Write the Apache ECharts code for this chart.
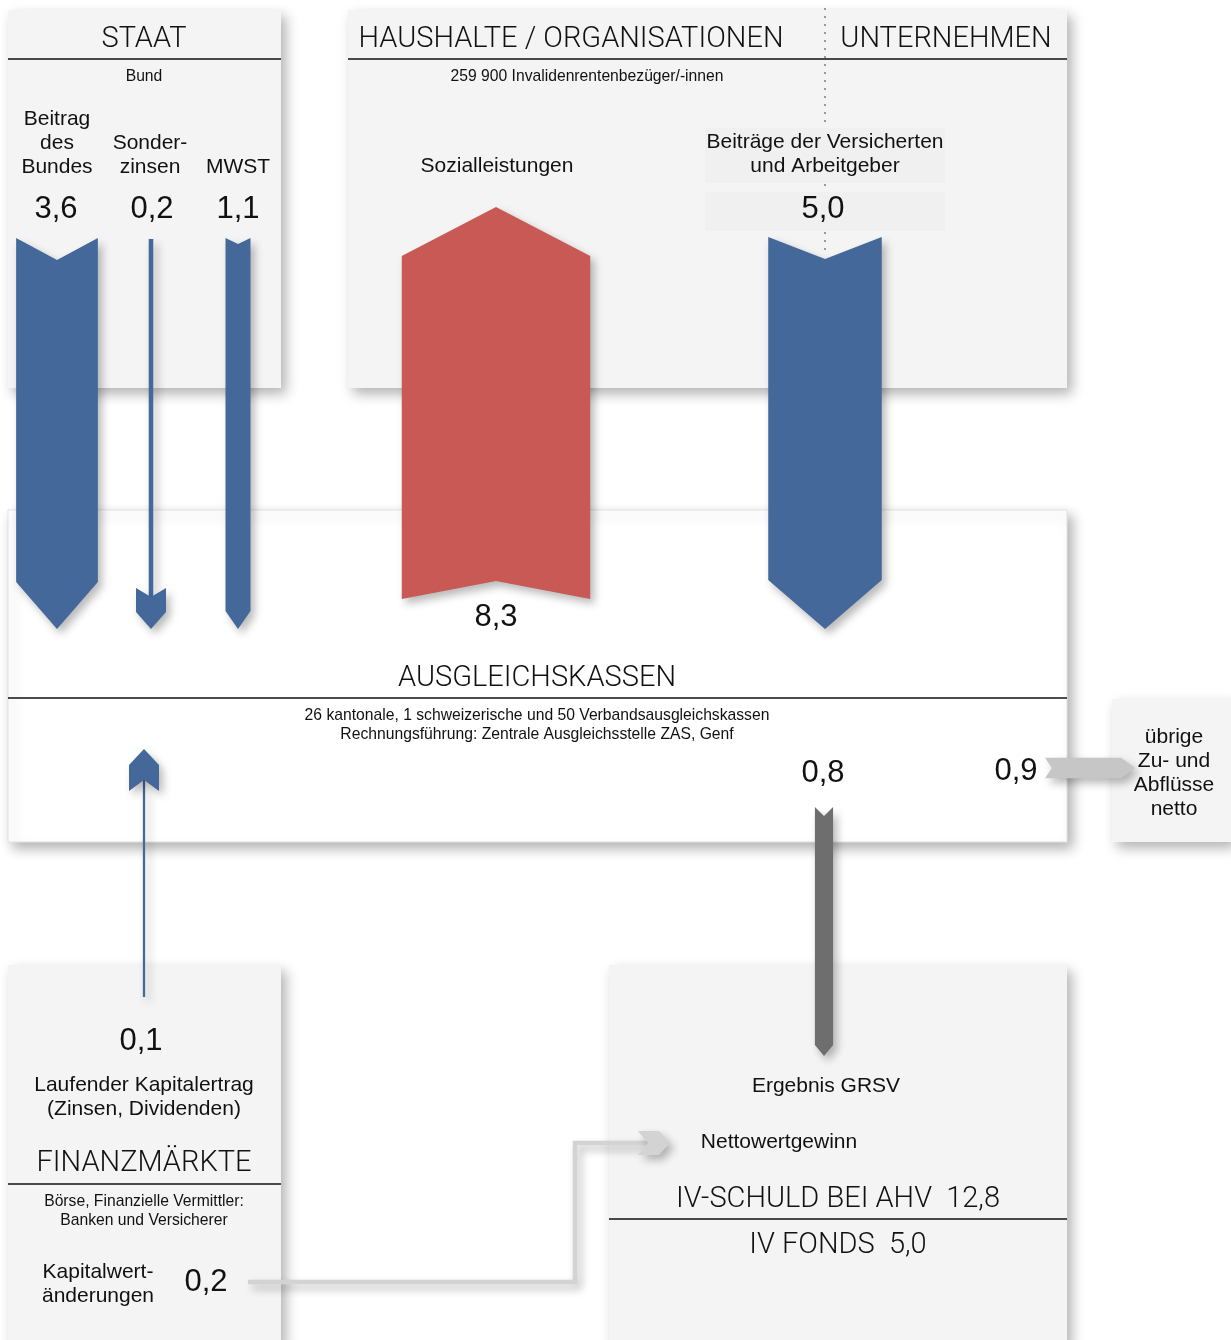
<!DOCTYPE html>
<html><head><meta charset="utf-8">
<script src="https://cdn.jsdelivr.net/npm/echarts@6/dist/echarts.min.js"></script>
<style>html,body{margin:0;padding:0;background:#fff}#chart{width:1231px;height:1340px}</style>
</head><body><div id="chart"></div>
<script>
// ---------------- DATA (Mrd. Fr.) ----------------
const sectorNames = ['STAAT', 'HAUSHALTE / ORGANISATIONEN', 'UNTERNEHMEN', 'AUSGLEICHSKASSEN', 'FINANZMÄRKTE'];
const sectorNotes = ['Bund', '259 900 Invalidenrentenbezüger/-innen', '',
  '26 kantonale, 1 schweizerische und 50 Verbandsausgleichskassen\nRechnungsführung: Zentrale Ausgleichsstelle ZAS, Genf',
  'Börse, Finanzielle Vermittler:\nBanken und Versicherer'];
const flowLabels = ['Beitrag\ndes\nBundes', 'Sonder-\nzinsen', 'MWST', 'Sozialleistungen',
  'Beiträge der Versicherten\nund Arbeitgeber', 'Ergebnis GRSV', 'übrige\nZu- und\nAbflüsse\nnetto',
  'Laufender Kapitalertrag\n(Zinsen, Dividenden)', 'Kapitalwert-\nänderungen'];
const flowValues = [3.6, 0.2, 1.1, 8.3, 5.0, 0.8, 0.9, 0.1, 0.2];
const stockLabels = ['IV-SCHULD BEI AHV', 'IV FONDS'];
const stockValues = [12.8, 5.0];
const extraLabels = ['Nettowertgewinn'];

// ---------------- LAYOUT / STYLE ----------------
const W = 1231, H = 1340;
const UNIT = 22.7;               // px width per Mrd. Fr.
const BLUE = '#44689a', RED = '#c85954', DGRAY = '#6e6e6e', LGRAY = '#c6c6c6', CGRAY = '#d3d3d3';
const fmt = v => v.toFixed(1).replace('.', ',');

const panels = [
  {x0: 8, y0: 10, x1: 281, y1: 388, fill: '#f4f4f4'},
  {x0: 348, y0: 10, x1: 1067, y1: 388, fill: '#f4f4f4'},
  {x0: 8, y0: 510, x1: 1067, y1: 842, fill: '#ffffff', stroke: '#e2e2e2'},
  {x0: 1112, y0: 699, x1: 1231, y1: 842, fill: '#f4f4f4'},
  {x0: 8, y0: 965, x1: 281, y1: 1345, fill: '#f4f4f4'},
  {x0: 609, y0: 965, x1: 1067, y1: 1345, fill: '#f4f4f4'}
];
const rules = [[8, 281, 59], [348, 1067, 59], [8, 1067, 698], [8, 281, 1184], [609, 1067, 1219]];
const textBoxes = [[705, 128, 945, 183], [705, 192, 945, 231]];
const dotted = {x: 825, y0: 8, y1: 256};

// arrow geometry for each flow (same order as flowValues)
const arrowLayout = [
  {kind: 'wide', axis: 'v', c: 57, from: 238, to: 629, notch: 22, head: 47, color: BLUE},
  {kind: 'thin', axis: 'v', c: 151, from: 239, to: 629, headW: 30, headLen: 17, headBody: 24, notch: 9, color: BLUE},
  {kind: 'wide', axis: 'v', c: 238, from: 238, to: 629, notch: 6, head: 18, color: BLUE},
  {kind: 'wide', axis: 'v', c: 496, from: 599, to: 207, notch: 18, head: 49, color: RED},
  {kind: 'wide', axis: 'v', c: 825, from: 237, to: 629, notch: 22, head: 49, color: BLUE},
  {kind: 'wide', axis: 'v', c: 824, from: 807, to: 1056, notch: 9, head: 11, color: DGRAY},
  {kind: 'wide', axis: 'h', c: 768, from: 1045, to: 1135, notch: 7, head: 14, color: LGRAY},
  {kind: 'thin', axis: 'v', c: 144, from: 997, to: 749, headW: 30, headLen: 16, headBody: 26, notch: 11, color: BLUE},
  {kind: 'thin', axis: 'h', c: 1143, from: 575, to: 670, headW: 24, headLen: 11, headBody: 21, notch: 10, color: CGRAY,
   pre: [[248, 1282], [575, 1282], [575, 1143]]}
];
// label positions (center x, center y) for flows
const flowLabelPos = [[57, 141], [150, 153], [238, 165], [497, 164], [825, 152], [826, 1084], [1174, 771], [144, 1095], [98, 1282]];
const flowValuePos = [[56, 207], [152, 207], [238, 207], [496, 615], [823, 207], [823, 771], [1016, 769], [141, 1039], [206, 1280]];
const sectorNamePos = [[144, 38], [571, 38], [946, 38], [537, 677], [144, 1162]];
const sectorNotePos = [[144, 75], [587, 75], [0, 0], [537, 723], [144, 1209]];
const stockPos = [[838, 1198], [838, 1244]];
const extraPos = [[779, 1140]];
const TEXT_DY = 2;

const HEAD_FONT = {fontFamily: 'Roboto', fontWeight: 300, fontSize: 29};
const LABEL_FONT = {fontFamily: 'Liberation Sans', fontWeight: 'normal', fontSize: 21, lineHeight: 24};
const VALUE_FONT = {fontFamily: 'Liberation Sans', fontWeight: 'normal', fontSize: 31};
const NOTE_FONT = {fontFamily: 'Liberation Sans', fontWeight: 'normal', fontSize: 15.7, lineHeight: 19};

// ---------------- BUILD TEXT ITEMS ----------------
const textItems = [];
sectorNames.forEach((t, i) => textItems.push(Object.assign({text: t, pos: sectorNamePos[i]}, HEAD_FONT)));
sectorNotes.forEach((t, i) => { if (t) textItems.push(Object.assign({text: t, pos: sectorNotePos[i]}, NOTE_FONT)); });
flowLabels.forEach((t, i) => textItems.push(Object.assign({text: t, pos: flowLabelPos[i]}, LABEL_FONT)));
flowValues.forEach((v, i) => textItems.push(Object.assign({text: fmt(v), pos: flowValuePos[i]}, VALUE_FONT)));
stockLabels.forEach((t, i) => textItems.push(Object.assign({text: t + '  ' + fmt(stockValues[i]), pos: stockPos[i]}, HEAD_FONT)));
extraLabels.forEach((t, i) => textItems.push(Object.assign({text: t, pos: extraPos[i]}, LABEL_FONT)));

const SHADOW = {shadowBlur: 9, shadowColor: 'rgba(0,0,0,0.28)', shadowOffsetX: 4, shadowOffsetY: 5};

function arrowShapes(api, lay, value) {
  const w = value * UNIT;
  const sign = lay.to > lay.from ? 1 : -1;
  const L = Math.abs(lay.to - lay.from);
  const map = (s, t) => lay.axis === 'v'
    ? api.coord([lay.c + s, lay.from + sign * t])
    : api.coord([lay.from + sign * t, lay.c + s]);
  const children = [];
  const style = Object.assign({fill: lay.color}, SHADOW);
  if (lay.kind === 'wide') {
    const pts = [[-w / 2, 0], [0, lay.notch], [w / 2, 0], [w / 2, L - lay.head], [0, L], [-w / 2, L - lay.head]].map(p => map(p[0], p[1]));
    children.push({type: 'polygon', shape: {points: pts}, style: style});
  } else {
    const a = L - lay.headLen - lay.headBody;
    if (lay.pre) {
      const pts = lay.pre.map(p => api.coord(p));
      pts.push(map(0, a + lay.notch));
      children.push({type: 'polyline', shape: {points: pts},
        style: Object.assign({stroke: lay.color, lineWidth: w, fill: null, lineJoin: 'miter'}, SHADOW)});
    } else {
      const shaft = [[-w / 2, 0], [w / 2, 0], [w / 2, a + lay.notch], [-w / 2, a + lay.notch]].map(p => map(p[0], p[1]));
      children.push({type: 'polygon', shape: {points: shaft}, style: style});
    }
    const hw = lay.headW / 2;
    const head = [[-hw, a], [0, a + lay.notch], [hw, a], [hw, L - lay.headLen], [0, L], [-hw, L - lay.headLen]].map(p => map(p[0], p[1]));
    children.push({type: 'polygon', shape: {points: head}, style: style});
  }
  return {type: 'group', children: children};
}

const chart = echarts.init(document.getElementById('chart'), null, {renderer: 'canvas'});
chart.setOption({
  animation: false,
  backgroundColor: '#ffffff',
  grid: {left: 0, top: 0, width: W, height: H},
  xAxis: {type: 'value', min: 0, max: W, show: false},
  yAxis: {type: 'value', min: 0, max: H, inverse: true, show: false},
  series: [
    { // panels
      type: 'custom', z: 1, clip: false, silent: true,
      data: panels.map((p, i) => [i]),
      renderItem: (params, api) => {
        const p = panels[params.dataIndex];
        const a = api.coord([p.x0, p.y0]), b = api.coord([p.x1, p.y1]);
        return {type: 'rect', shape: {x: a[0], y: a[1], width: b[0] - a[0], height: b[1] - a[1]},
          style: Object.assign({fill: p.fill, stroke: p.stroke || null, lineWidth: 1},
            {shadowBlur: 12, shadowColor: 'rgba(0,0,0,0.30)', shadowOffsetX: 5, shadowOffsetY: 6})};
      }
    },
    { // dotted divider, text backgrounds, rules
      type: 'custom', z: 2, clip: false, silent: true,
      data: [[0]],
      renderItem: (params, api) => {
        const ch = [];
        const d0 = api.coord([dotted.x, dotted.y0]), d1 = api.coord([dotted.x, dotted.y1]);
        ch.push({type: 'line', shape: {x1: d0[0], y1: d0[1], x2: d1[0], y2: d1[1]},
          style: {stroke: '#9a9a9a', lineWidth: 2, lineDash: [2, 6], lineCap: 'butt'}});
        textBoxes.forEach(bx => {
          const a = api.coord([bx[0], bx[1]]), b = api.coord([bx[2], bx[3]]);
          ch.push({type: 'rect', shape: {x: a[0], y: a[1], width: b[0] - a[0], height: b[1] - a[1]}, style: {fill: '#f0f0f0'}});
        });
        rules.forEach(r => {
          const a = api.coord([r[0], r[2]]), b = api.coord([r[1], r[2]]);
          ch.push({type: 'line', shape: {x1: a[0], y1: a[1], x2: b[0], y2: b[1]}, style: {stroke: '#111', lineWidth: 1.6}});
        });
        return {type: 'group', children: ch};
      }
    },
    { // flows
      type: 'custom', z: 3, clip: false, silent: true,
      data: flowValues.map((v, i) => [i, v]),
      renderItem: (params, api) => arrowShapes(api, arrowLayout[params.dataIndex], api.value(1))
    },
    { // texts
      type: 'custom', z: 4, clip: false, silent: true,
      data: textItems.map((t, i) => [i]),
      renderItem: (params, api) => {
        const t = textItems[params.dataIndex];
        const p = api.coord([t.pos[0], t.pos[1] + TEXT_DY]);
        return {type: 'text', style: {
          text: t.text, x: p[0], y: p[1], fill: '#111',
          fontFamily: t.fontFamily, fontWeight: t.fontWeight, fontSize: t.fontSize,
          lineHeight: t.lineHeight || Math.round(t.fontSize * 1.2),
          align: 'center', verticalAlign: 'middle'}};
      }
    }
  ]
});
</script>
</body></html>
